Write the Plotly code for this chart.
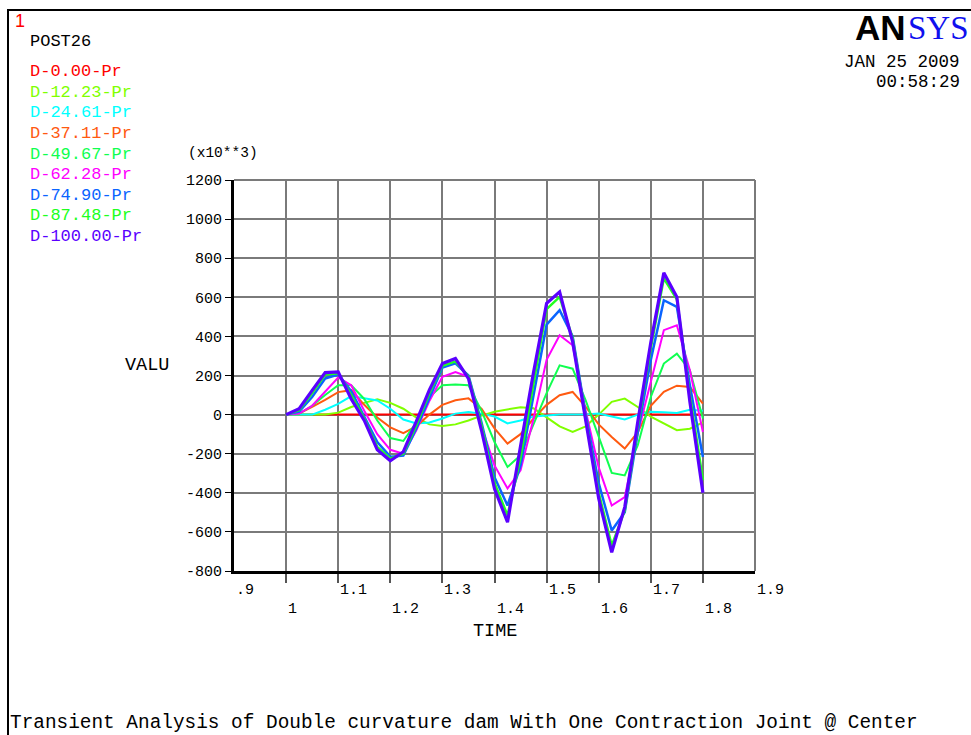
import plotly.graph_objects as go

# ---------------- data ----------------
time = [1.000, 1.025, 1.050, 1.075, 1.100, 1.125, 1.150, 1.175, 1.200, 1.225, 1.250,
        1.275, 1.300, 1.325, 1.350, 1.375, 1.400, 1.425, 1.450, 1.475, 1.500, 1.525,
        1.550, 1.575, 1.600, 1.625, 1.650, 1.675, 1.700, 1.725, 1.750, 1.775, 1.800]

series_names = ["D-0.00-Pr", "D-12.23-Pr", "D-24.61-Pr", "D-37.11-Pr", "D-49.67-Pr",
                "D-62.28-Pr", "D-74.90-Pr", "D-87.48-Pr", "D-100.00-Pr"]

d000 = [0] * 33
d012 = [0, 0, 0, 0, 10, 39, 60, 78, 60, 30, -15, -50, -58, -50, -30, -5, 15, 28, 38, 32,
        -15, -60, -89, -60, 0, 65, 82, 39, -10, -46, -80, -72, -40]
d025 = [0, 0, 0, 25, 55, 95, 85, 72, 30, -25, -45, -40, -20, 5, 13, 5, -10, -45, -30, -10,
        -5, 0, 0, 0, 5, -10, -25, 0, 15, 12, 8, 25, 20]
d037 = [0, 5, 40, 75, 115, 125, 50, -15, -65, -95, -60, 0, 50, 73, 83, 30, -70, -148, -100,
        -20, 50, 99, 116, 40, -50, -115, -174, -90, 45, 116, 148, 141, 56]
d050 = [0, 5, 45, 100, 150, 150, 80, -30, -120, -135, -40, 90, 150, 154, 150, 20, -140, -268,
        -208, -50, 110, 252, 235, 73, -115, -298, -311, -157, 90, 261, 312, 227, -20]
d062 = [0, 5, 45, 120, 190, 150, 20, -100, -180, -200, -80, 70, 193, 218, 193, -60, -260, -378,
        -285, -20, 280, 406, 355, 20, -270, -465, -422, -97, 175, 432, 457, 227, -89]
d075 = [0, 15, 90, 185, 205, 120, -10, -140, -215, -210, -70, 90, 240, 262, 200, -40, -320, -465,
        -260, 100, 460, 534, 400, 0, -350, -593, -500, -90, 280, 585, 551, 150, -217]
d087 = [0, 22, 110, 205, 212, 100, -20, -165, -225, -200, -55, 110, 250, 272, 195, -55, -350, -516,
        -220, 170, 540, 602, 390, -20, -400, -670, -490, -60, 340, 697, 590, 100, -336]
d100 = [0, 30, 124, 215, 218, 80, -30, -180, -236, -190, -35, 126, 261, 287, 184, -80, -380, -550,
        -161, 218, 569, 628, 372, -38, -429, -705, -473, -36, 369, 725, 602, 66, -400]

series_values = [d000, d012, d025, d037, d050, d062, d075, d087, d100]

x_tick_vals = [1.0, 1.1, 1.2, 1.3, 1.4, 1.5, 1.6, 1.7, 1.8]
x_row1_vals = [0.9, 1.1, 1.3, 1.5, 1.7, 1.9]
x_row1_text = [".9", "1.1", "1.3", "1.5", "1.7", "1.9"]
x_row2_vals = [1.0, 1.2, 1.4, 1.6, 1.8]
x_row2_text = ["1", "1.2", "1.4", "1.6", "1.8"]
y_tick_vals = [-800, -600, -400, -200, 0, 200, 400, 600, 800, 1000, 1200]
y_tick_text = ["-800", "-600", "-400", "-200", "0", "200", "400", "600", "800", "1000", "1200"]

# ---------------- style ----------------
colors = ["#ff0000", "#80ff00", "#00ffff", "#ff5a10", "#10ff50",
          "#ff00ff", "#0a64ff", "#20ff20", "#5a00ff"]
widths = [2, 2, 2, 2, 2, 2, 2.5, 2.5, 3.2]
MONO = "Liberation Mono"

W, H = 971, 735
L, R, T, B = 234, 216, 180, 164
PW, PH = W - L - R, H - T - B


def px(x):
    return (x - L) / PW


def py(y):
    return (H - B - y) / PH


fig = go.Figure()
for name, vals, col, w in zip(series_names, series_values, colors, widths):
    fig.add_trace(go.Scatter(x=time, y=vals, mode="lines", name=name,
                             line=dict(color=col, width=w), showlegend=False,
                             hoverinfo="skip"))

grid = "#7a7a7a"
fig.update_layout(
    width=W, height=H,
    margin=dict(l=L, r=R, t=T, b=B, pad=0),
    paper_bgcolor="white", plot_bgcolor="white",
    xaxis=dict(range=[0.9, 1.9], tickmode="array", tickvals=x_tick_vals,
               showticklabels=False, ticks="outside", ticklen=9, tickwidth=1.5,
               tickcolor="#555555", showgrid=True, gridcolor=grid, gridwidth=1.6,
               showline=True, linecolor="black", linewidth=3, zeroline=False,
               fixedrange=True),
    yaxis=dict(range=[-800, 1200], tickmode="array", tickvals=y_tick_vals,
               ticktext=y_tick_text, ticks="outside", ticklen=6, tickwidth=1,
               tickcolor="black", tickfont=dict(family=MONO, size=15, color="black"),
               showgrid=True, gridcolor=grid, gridwidth=1.6, showline=True,
               linecolor="black", linewidth=3, zeroline=False, fixedrange=True),
)

shapes = [
    dict(type="line", xref="paper", yref="paper", x0=0, x1=1, y0=1, y1=1,
         line=dict(color=grid, width=2)),
    dict(type="line", xref="paper", yref="paper", x0=1, x1=1, y0=0, y1=1,
         line=dict(color=grid, width=2)),
    dict(type="rect", xref="paper", yref="paper", x0=px(8), x1=px(990), y0=py(10),
         y1=py(760), line=dict(color="black", width=2), layer="below"),
]
fig.update_layout(shapes=shapes)

ann = []


def text(t, x, y, size, color="black", xanchor="left", family=MONO):
    ann.append(dict(text=t, xref="paper", yref="paper", x=px(x), y=py(y),
                    xanchor=xanchor, yanchor="middle", showarrow=False,
                    font=dict(family=family, size=size, color=color)))


# header
text("1", 13, 21, 18, color="#ff0000", family="Liberation Sans")
text("POST26", 28, 41, 17)
legend_y0, legend_dy = 71.7, 20.6
for i, (name, col) in enumerate(zip(series_names, colors)):
    text(name, 28, legend_y0 + i * legend_dy, 17, color=col)

# ANSYS logo and date
ann.append(dict(text="<b>AN</b>", xref="paper", yref="paper", x=px(908), y=py(27),
                xanchor="right", yanchor="middle", showarrow=False,
                font=dict(family="Liberation Sans", size=35, color="black")))
ann.append(dict(text="SYS", xref="paper", yref="paper", x=px(906), y=py(28),
                xanchor="left", yanchor="middle", showarrow=False,
                font=dict(family="Liberation Serif", size=33, color="#1010ee")))
text("JAN 25 2009", 962, 62, 17.5, xanchor="right")
text("00:58:29", 962, 82, 17.5, xanchor="right")

# axis titles
text("(x10**3)", 223, 153, 14.5, xanchor="center")
text("VALU", 147, 365, 18.5, xanchor="center")
text("TIME", 495, 631, 18.5, xanchor="center")

# x tick labels (two staggered rows, left-aligned at tick)
for v, t in zip(x_row1_vals, x_row1_text):
    ann.append(dict(text=t, xref="x", yref="paper", x=v, y=py(590), xanchor="left",
                    yanchor="middle", showarrow=False,
                    font=dict(family=MONO, size=15, color="black")))
for v, t in zip(x_row2_vals, x_row2_text):
    ann.append(dict(text=t, xref="x", yref="paper", x=v, y=py(609), xanchor="left",
                    yanchor="middle", showarrow=False,
                    font=dict(family=MONO, size=15, color="black")))

# bottom title
text("Transient Analysis of Double curvature dam With One Contraction Joint @ Center",
     8, 723, 19.4)

fig.update_layout(annotations=ann)
fig.write_html("out.html", config={"displayModeBar": False})
